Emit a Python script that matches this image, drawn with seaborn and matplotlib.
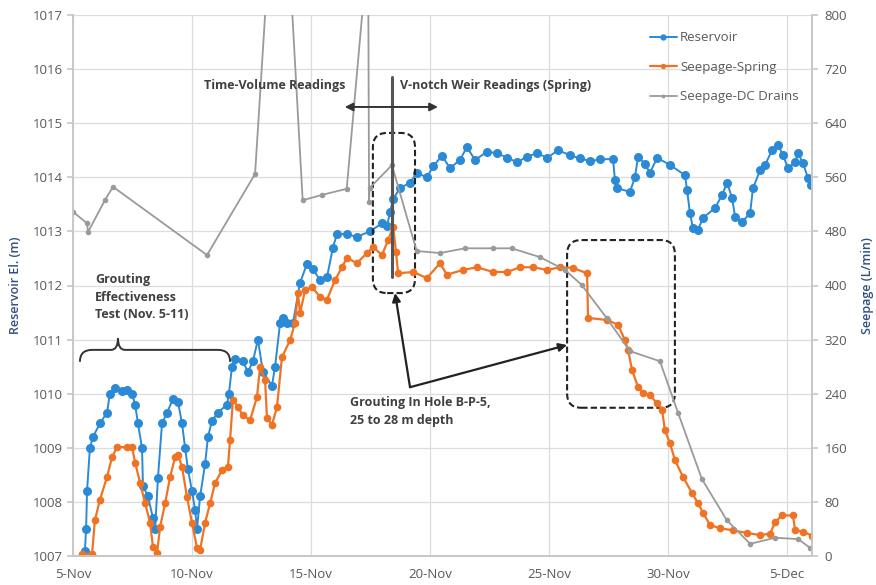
import pandas as pd
import matplotlib
matplotlib.use('Agg')
import matplotlib.pyplot as plt
import matplotlib.dates as mdates
from matplotlib.patches import FancyBboxPatch, PathPatch
from matplotlib.path import Path
from matplotlib.ticker import FuncFormatter
import seaborn as sns

# days after 5-Nov and readings
res_day = [0.50, 0.55, 0.59, 0.71, 0.84, 1.13, 1.43, 1.55, 1.76, 2.06, 2.27, 2.48, 2.61, 2.73, 2.90,
           2.94, 3.15, 3.36, 3.45, 3.57, 3.74, 3.95, 4.20, 4.41, 4.58, 4.71, 4.83, 5.00, 5.13, 5.21,
           5.34, 5.55, 5.67, 5.84, 6.09, 6.47, 6.55, 6.68, 6.81, 7.14, 7.35, 7.56, 7.77, 7.98, 8.36,
           8.49, 8.70, 8.82, 8.99, 9.24, 9.54, 9.83, 10.08, 10.38, 10.67, 10.92, 11.09, 11.51, 11.93,
           12.48, 12.98, 13.19, 13.32, 13.45, 13.74, 14.16, 14.45, 14.87, 15.13, 15.50, 15.84, 16.26,
           16.55, 16.89, 17.39, 17.82, 18.24, 18.66, 19.08, 19.50, 19.92, 20.38, 20.88, 21.30, 21.72,
           22.14, 22.69, 22.77, 22.86, 23.40, 23.61, 23.74, 24.03, 24.24, 24.54, 25.08, 25.71, 25.80,
           25.92, 26.05, 26.26, 26.47, 26.97, 27.27, 27.48, 27.69, 27.82, 28.11, 28.45, 28.57, 28.87,
           29.08, 29.37, 29.62, 29.83, 30.04, 30.34, 30.46, 30.67, 30.88, 31.01]
res_el = [1007.1, 1007.5, 1008.2, 1009.0, 1009.2, 1009.45, 1009.65, 1010.0, 1010.1, 1010.05, 1010.07,
          1010.0, 1009.8, 1009.45, 1009.0, 1008.3, 1008.1, 1007.7, 1007.5, 1008.45, 1009.45, 1009.65,
          1009.9, 1009.85, 1009.45, 1009.0, 1008.6, 1008.2, 1007.85, 1007.5, 1008.1, 1008.7, 1009.2,
          1009.5, 1009.65, 1009.8, 1010.0, 1010.5, 1010.65, 1010.6, 1010.4, 1010.6, 1011.0, 1010.4,
          1010.15, 1010.5, 1011.3, 1011.4, 1011.3, 1011.3, 1012.05, 1012.4, 1012.3, 1012.1, 1012.15,
          1012.7, 1012.95, 1012.95, 1012.9, 1013.0, 1013.15, 1013.1, 1013.35, 1013.6, 1013.8, 1013.9,
          1014.08, 1014.0, 1014.2, 1014.4, 1014.17, 1014.32, 1014.56, 1014.32, 1014.47, 1014.45,
          1014.36, 1014.28, 1014.38, 1014.45, 1014.36, 1014.5, 1014.41, 1014.35, 1014.3, 1014.33,
          1014.34, 1013.95, 1013.8, 1013.73, 1014.0, 1014.38, 1014.25, 1014.08, 1014.36, 1014.23,
          1014.04, 1013.77, 1013.34, 1013.06, 1013.03, 1013.25, 1013.43, 1013.67, 1013.9, 1013.62,
          1013.27, 1013.17, 1013.34, 1013.8, 1014.13, 1014.23, 1014.5, 1014.6, 1014.41, 1014.17,
          1014.28, 1014.45, 1014.26, 1013.99, 1013.86]

spring_day = [0.38, 0.80, 0.92, 1.13, 1.43, 1.64, 1.85, 2.27, 2.48, 2.61, 2.82, 3.03, 3.24, 3.36, 3.53,
              3.66, 3.87, 4.08, 4.29, 4.41, 4.58, 4.79, 5.00, 5.21, 5.34, 5.55, 5.76, 5.97, 6.26, 6.51,
              6.60, 6.72, 6.93, 7.14, 7.44, 7.73, 7.86, 8.07, 8.15, 8.36, 8.57, 8.78, 9.12, 9.33, 9.45,
              9.54, 9.75, 10.04, 10.38, 10.67, 11.01, 11.30, 11.51, 11.93, 12.35, 12.61, 12.98, 13.24,
              13.45, 13.57, 13.66, 14.29, 14.87, 15.42, 15.71, 16.39, 16.97, 17.65, 18.24, 18.78, 19.33,
              19.92, 20.46, 21.01, 21.60, 21.64, 22.44, 22.90, 23.19, 23.32, 23.49, 23.74, 23.95, 24.24,
              24.54, 24.75, 24.87, 25.08, 25.29, 25.63, 26.01, 26.26, 26.47, 26.76, 27.18, 27.73, 28.32,
              28.87, 29.29, 29.50, 29.79, 30.25, 30.34, 30.67, 31.05]
spring_q = [3, 3, 53, 83, 117, 146, 161, 161, 161, 138, 108, 78, 49, 13, 4,
            43, 78, 117, 146, 149, 132, 87, 49, 12, 9, 49, 78, 108, 127, 132,
            172, 231, 220, 208, 201, 235, 280, 260, 204, 194, 220, 294, 319, 345, 389,
            359, 393, 398, 383, 379, 408, 427, 441, 433, 448, 457, 445, 467,
            487, 450, 418, 420, 411, 433, 416, 423, 427, 420, 420, 427, 427,
            423, 427, 426, 418, 352, 349, 342, 319, 305, 275, 250, 241, 238,
            226, 216, 186, 167, 142, 117, 93, 78, 64, 46, 41, 38, 34,
            31, 33, 50, 60, 60, 38, 36, 30]

drain_day = [0.0, 0.59, 0.63, 1.34, 1.68, 5.63, 7.65, 8.68, 9.65, 10.46, 11.50, 12.40, 12.44, 12.46,
             13.40, 14.44, 15.42, 16.47, 17.65, 18.43, 19.62, 20.67, 21.37, 22.42, 23.40, 24.66, 25.43,
             26.42, 27.47, 28.45, 29.50, 30.47, 30.97]
drain_q = [509, 492, 479, 526, 546, 445, 565, 1140, 526, 534, 543, 900, 523, 544,
           578, 451, 448, 455, 455, 455, 442, 423, 401, 352, 303, 288, 211,
           114, 53, 18, 27, 25, 12]

start = pd.Timestamp('2015-11-05')
x0 = mdates.date2num(start)


def to_dates(days):
    return start + pd.to_timedelta(days, unit='D')


blue = '#2a8ad6'
orange = '#f07324'
gray = '#9a9a9a'
ink = '#404040'

sns.set_theme(style='white')
plt.rcParams['font.family'] = ['Open Sans', 'DejaVu Sans']

fig = plt.figure(figsize=(8.76, 5.85), dpi=100)
ax = fig.add_axes([73 / 876, 1 - 556 / 585, 739 / 876, 541 / 585])
ax2 = ax.twinx()

sns.lineplot(x=to_dates(res_day), y=res_el, ax=ax, color=blue, marker='o', markersize=6.5,
             markeredgewidth=0, linewidth=1.4, estimator=None, sort=False, label='Reservoir')
sns.lineplot(x=to_dates(spring_day), y=spring_q, ax=ax2, color=orange, marker='o', markersize=5.5,
             markeredgewidth=0, linewidth=1.6, estimator=None, sort=False, label='Seepage-Spring')
sns.lineplot(x=to_dates(drain_day), y=drain_q, ax=ax2, color=gray, marker='o', markersize=4,
             markeredgewidth=0, linewidth=1.3, estimator=None, sort=False, label='Seepage-DC Drains')

ax.set_ylim(1007, 1017)
ax2.set_ylim(0, 800)
ax.set_yticks(range(1007, 1018))
ax2.set_yticks(range(0, 801, 80))
ax.set_xlim(start, start + pd.Timedelta(days=31.05))
ax.set_xticks(pd.date_range(start, periods=7, freq='5D'))
ax.xaxis.set_major_formatter(FuncFormatter(
    lambda v, p: f"{mdates.num2date(v).day}-{mdates.num2date(v).strftime('%b')}"))

ax.grid(True, color='#dcdcdc', linewidth=0.9)
ax2.grid(False)
for a in (ax, ax2):
    for s in a.spines.values():
        s.set_color('#c8c8c8')
    a.spines['top'].set_visible(False)
ax.tick_params(axis='y', left=True, length=4, color='#c8c8c8', labelsize=9.5, labelcolor='#595959', pad=3)
ax2.tick_params(axis='y', right=True, length=4, color='#c8c8c8', labelsize=9.5, labelcolor='#595959', pad=5)
ax.tick_params(axis='x', bottom=False, labelsize=9.5, labelcolor='#595959', pad=3)

ax.set_xlabel('')
ax.set_ylabel('Reservoir El. (m)', fontsize=9, color='#2f4f7f', fontweight='semibold', labelpad=8)
ax2.set_ylabel('Seepage (L/min)', fontsize=9, color='#2f4f7f', fontweight='semibold', labelpad=10)

# legend combined from both axes
h1, l1 = ax.get_legend_handles_labels()
h2, l2 = ax2.get_legend_handles_labels()
ax.get_legend().remove()
ax2.get_legend().remove()
leg = ax2.legend(h1 + h2, l1 + l2, loc='upper left', bbox_to_anchor=(645 / 876, 1 - 26 / 585),
                 bbox_transform=fig.transFigure, frameon=False, fontsize=9.5, handlelength=2.0,
                 handletextpad=0.25, labelspacing=1.25, borderaxespad=0, markerscale=0.7)
for t in leg.get_texts():
    t.set_color('#595959')

# annotations (left-axis units, x in days after 5-Nov)
tr = ax.transData
txt = dict(fontsize=9, fontweight='bold', color=ink, transform=tr)
ax2.text(x0 + 11.45, 1015.69, 'Time-Volume Readings', ha='right', va='center', **txt)
ax2.text(x0 + 13.72, 1015.69, 'V-notch Weir Readings (Spring)', ha='left', va='center', **txt)
ax2.plot([x0 + 13.39, x0 + 13.39], [1012.16, 1015.85], color='#555555', lw=2.2, transform=tr)
ax2.annotate('', xy=(x0 + 11.3, 1015.3), xytext=(x0 + 15.45, 1015.3), xycoords=tr, textcoords=tr,
             arrowprops=dict(arrowstyle='<|-|>', color='#333333', lw=1.4, mutation_scale=12))

aspect = 0.44
for bx, by, bw, bh in [(12.6, 1011.86, 1.77, 2.96), (20.76, 1009.74, 4.53, 3.1)]:
    ax2.add_patch(FancyBboxPatch((x0 + bx, by), bw, bh, boxstyle='round,pad=0,rounding_size=0.6',
                                 mutation_aspect=aspect, fill=False, ls=(0, (3, 1.5)), lw=1.5,
                                 ec='#222222', transform=tr))

ax2.text(x0 + 11.62, 1009.68, 'Grouting In Hole B-P-5,\n25 to 28 m depth', ha='left', va='center',
         linespacing=1.5, **txt)
for ex, ey in [(13.53, 1011.86), (20.76, 1010.9)]:
    ax2.annotate('', xy=(x0 + ex, ey), xytext=(x0 + 14.16, 1010.12), xycoords=tr, textcoords=tr,
                 arrowprops=dict(arrowstyle='-|>', color='#222222', lw=1.6, mutation_scale=12,
                                 shrinkA=0, shrinkB=0))

ax2.text(x0 + 0.92, 1011.78, 'Grouting\nEffectiveness\nTest (Nov. 5-11)', ha='left', va='center',
         linespacing=1.45, **txt)
yb, ym, yt = 1010.59, 1010.81, 1011.03
verts = [(0.29, yb), (0.29, ym), (0.80, ym), (1.60, ym), (1.89, ym), (1.89, yt),
         (1.89, ym), (2.18, ym), (6.09, ym), (6.60, ym), (6.60, yb)]
codes = [Path.MOVETO, Path.CURVE3, Path.CURVE3, Path.LINETO, Path.CURVE3, Path.CURVE3,
         Path.CURVE3, Path.CURVE3, Path.LINETO, Path.CURVE3, Path.CURVE3]
brace = Path([(x0 + vx, vy) for vx, vy in verts], codes)
ax2.add_patch(PathPatch(brace, fill=False, ec='#333333', lw=1.4, transform=tr))

fig.savefig('out.png', dpi=100)
